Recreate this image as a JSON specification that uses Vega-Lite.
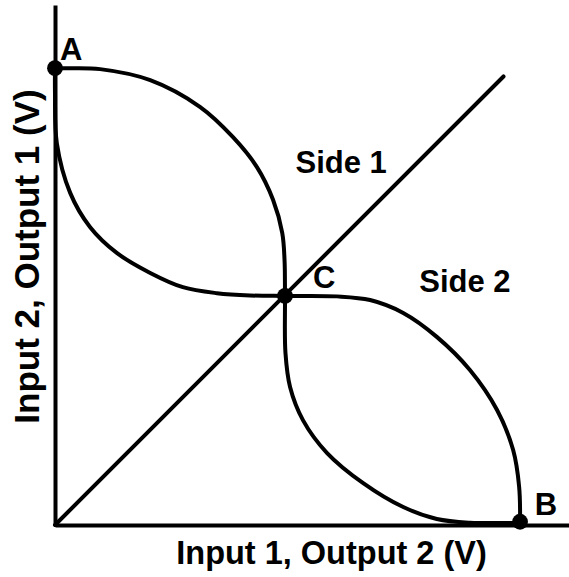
{
  "$schema": "https://vega.github.io/schema/vega-lite/v6.json",
  "width": 514,
  "height": 520,
  "autosize": {"type": "none"},
  "padding": {"left": 55, "top": 5, "right": 0, "bottom": 52},
  "background": "white",
  "config": {"view": {"stroke": null}},
  "datasets": {
    "curves": [
      {"s": "c1", "i": 0, "x": 0.0, "y": 0.993},
      {"s": "c1", "i": 1, "x": 0.03, "y": 0.993},
      {"s": "c1", "i": 2, "x": 0.098, "y": 0.991},
      {"s": "c1", "i": 3, "x": 0.207, "y": 0.967},
      {"s": "c1", "i": 4, "x": 0.315, "y": 0.909},
      {"s": "c1", "i": 5, "x": 0.387, "y": 0.843},
      {"s": "c1", "i": 6, "x": 0.439, "y": 0.778},
      {"s": "c1", "i": 7, "x": 0.474, "y": 0.707},
      {"s": "c1", "i": 8, "x": 0.494, "y": 0.635},
      {"s": "c1", "i": 9, "x": 0.499, "y": 0.576},
      {"s": "c1", "i": 10, "x": 0.5, "y": 0.498},
      {"s": "c1", "i": 11, "x": 0.501, "y": 0.374},
      {"s": "c1", "i": 12, "x": 0.511, "y": 0.3},
      {"s": "c1", "i": 13, "x": 0.539, "y": 0.228},
      {"s": "c1", "i": 14, "x": 0.591, "y": 0.157},
      {"s": "c1", "i": 15, "x": 0.67, "y": 0.091},
      {"s": "c1", "i": 16, "x": 0.757, "y": 0.039},
      {"s": "c1", "i": 17, "x": 0.83, "y": 0.013},
      {"s": "c1", "i": 18, "x": 0.902, "y": 0.005},
      {"s": "c1", "i": 19, "x": 1.011, "y": 0.005},
      {"s": "c2", "i": 0, "x": 0.0, "y": 0.993},
      {"s": "c2", "i": 1, "x": 0.0, "y": 0.939},
      {"s": "c2", "i": 2, "x": 0.004, "y": 0.83},
      {"s": "c2", "i": 3, "x": 0.033, "y": 0.722},
      {"s": "c2", "i": 4, "x": 0.076, "y": 0.648},
      {"s": "c2", "i": 5, "x": 0.135, "y": 0.591},
      {"s": "c2", "i": 6, "x": 0.207, "y": 0.548},
      {"s": "c2", "i": 7, "x": 0.278, "y": 0.517},
      {"s": "c2", "i": 8, "x": 0.352, "y": 0.504},
      {"s": "c2", "i": 9, "x": 0.424, "y": 0.499},
      {"s": "c2", "i": 10, "x": 0.5, "y": 0.498},
      {"s": "c2", "i": 11, "x": 0.613, "y": 0.497},
      {"s": "c2", "i": 12, "x": 0.685, "y": 0.489},
      {"s": "c2", "i": 13, "x": 0.757, "y": 0.461},
      {"s": "c2", "i": 14, "x": 0.83, "y": 0.409},
      {"s": "c2", "i": 15, "x": 0.902, "y": 0.337},
      {"s": "c2", "i": 16, "x": 0.961, "y": 0.25},
      {"s": "c2", "i": 17, "x": 0.996, "y": 0.163},
      {"s": "c2", "i": 18, "x": 1.009, "y": 0.083},
      {"s": "c2", "i": 19, "x": 1.011, "y": 0.005},
      {"s": "d", "i": 0, "x": 0.0, "y": 0.0},
      {"s": "d", "i": 1, "x": 0.975, "y": 0.975}
    ],
    "points": [
      {"name": "A", "x": 0.0, "y": 0.993},
      {"name": "C", "x": 0.5, "y": 0.498},
      {"name": "B", "x": 1.011, "y": 0.007}
    ],
    "labels": [
      {"text": "A", "x": 0.035, "y": 1.011},
      {"text": "C", "x": 0.585, "y": 0.515},
      {"text": "B", "x": 1.067, "y": 0.022},
      {"text": "Side 1", "x": 0.622, "y": 0.765},
      {"text": "Side 2", "x": 0.891, "y": 0.507}
    ]
  },
  "layer": [
    {
      "data": {"name": "curves"},
      "mark": {"type": "line", "color": "black", "strokeWidth": 4, "interpolate": "catmull-rom", "strokeCap": "round"},
      "encoding": {
        "x": {
          "field": "x", "type": "quantitative",
          "scale": {"domain": [0, 1.1174], "nice": false, "zero": false},
          "axis": {
            "title": "Input 1, Output 2 (V)", "labels": false, "ticks": false, "grid": false,
            "domain": true, "domainColor": "black", "domainWidth": 4,
            "titleFont": "Liberation Sans", "titleFontWeight": "bold", "titleFontSize": 32.5, "titleColor": "black",
            "titleX": 276, "titleY": 38, "titleBaseline": "alphabetic", "titleAlign": "center"
          }
        },
        "y": {
          "field": "y", "type": "quantitative",
          "scale": {"domain": [0, 1.1304], "nice": false, "zero": false},
          "axis": {
            "title": "Input 2, Output 1 (V)", "labels": false, "ticks": false, "grid": false,
            "domain": true, "domainColor": "black", "domainWidth": 4,
            "titleFont": "Liberation Sans", "titleFontWeight": "bold", "titleFontSize": 35, "titleColor": "black",
            "titleX": -17, "titleY": 251, "titleBaseline": "alphabetic", "titleAlign": "center", "titleAngle": -90
          }
        },
        "detail": {"field": "s"},
        "order": {"field": "i", "type": "quantitative"}
      }
    },
    {
      "data": {"name": "points"},
      "mark": {"type": "circle", "color": "black", "opacity": 1, "size": 250},
      "encoding": {
        "x": {"field": "x", "type": "quantitative"},
        "y": {"field": "y", "type": "quantitative"}
      }
    },
    {
      "data": {"name": "labels"},
      "mark": {"type": "text", "font": "Liberation Sans", "fontWeight": "bold", "fontSize": 31, "color": "black", "align": "center", "baseline": "alphabetic"},
      "encoding": {
        "x": {"field": "x", "type": "quantitative"},
        "y": {"field": "y", "type": "quantitative"},
        "text": {"field": "text"}
      }
    }
  ]
}
